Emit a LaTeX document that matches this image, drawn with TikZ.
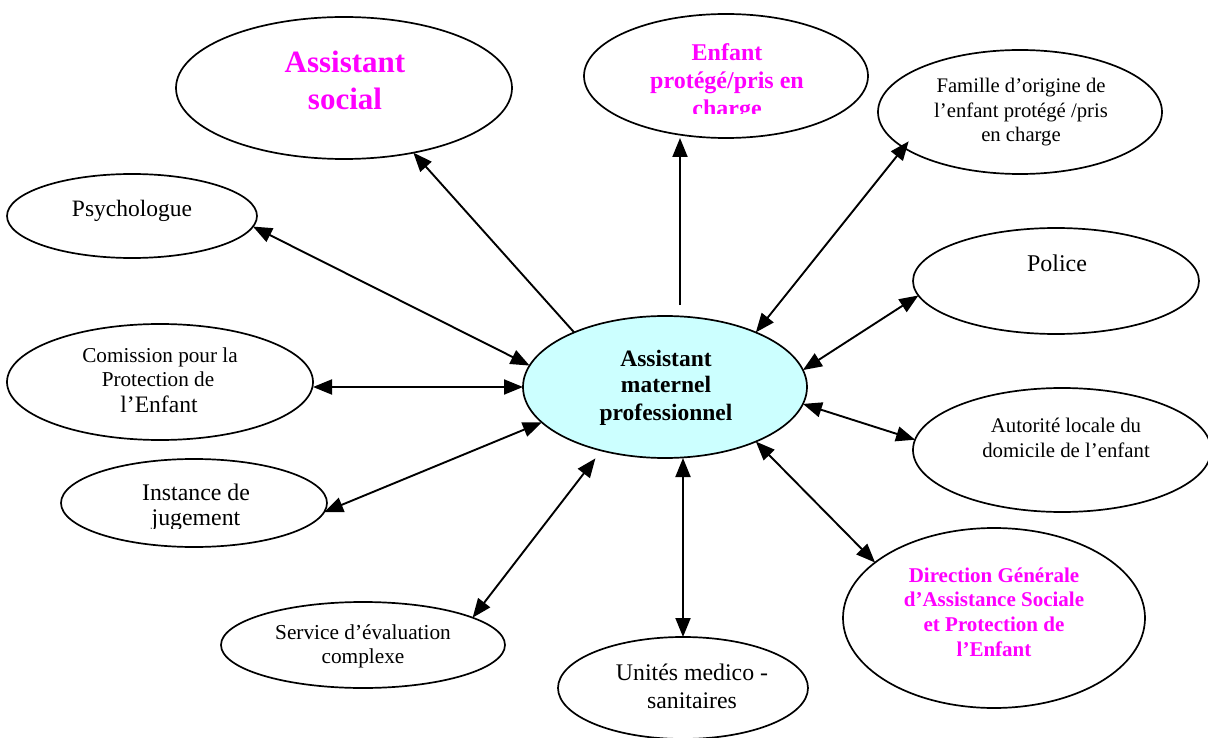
\documentclass[tikz,border=0pt]{standalone}
\usepackage{fontspec}
\setmainfont{Liberation Serif}
\usetikzlibrary{shapes.geometric,arrows.meta}
\definecolor{mag}{HTML}{FF00FF}
\definecolor{cyanfill}{HTML}{CCFFFF}
\tikzset{
  oval/.style={ellipse, draw=black, line width=1.7pt, inner sep=0pt, outer sep=0pt},
  link/.style={line width=1.9pt, {Triangle[length=19pt,width=15pt]}-{Triangle[length=19pt,width=15pt]}},
  linkone/.style={line width=1.9pt, -{Triangle[length=19pt,width=15pt]}},
  lbl/.style={anchor=base, inner sep=0pt, outer sep=0pt},
  magb/.style={text=mag, font=\bfseries\fontsize{#1}{#1}\selectfont},
  blkb/.style={text=black, font=\bfseries\fontsize{#1}{#1}\selectfont},
  reg/.style={text=black, font=\fontsize{#1}{#1}\selectfont}
}
\begin{document}
\begin{tikzpicture}[x=1pt,y=-1pt]
\useasboundingbox (0,0) rectangle (1208,738);
% ellipses
\node[oval, fill=cyanfill, minimum width=284pt, minimum height=142pt] (cen) at (665,387) {};
\node[oval, minimum width=336pt, minimum height=142pt] (soc) at (344,88) {};
\node[oval, minimum width=284pt, minimum height=124pt] (enf) at (726,76) {};
\node[oval, minimum width=284pt, minimum height=124pt] (fam) at (1020,112) {};
\node[oval, minimum width=286pt, minimum height=106pt] (pol) at (1056,281) {};
\node[oval, minimum width=298pt, minimum height=124pt] (aut) at (1062,450) {};
\node[oval, minimum width=302pt, minimum height=180pt] (dir) at (994,618) {};
\node[oval, minimum width=250pt, minimum height=102pt] (uni) at (683,688) {};
\node[oval, minimum width=284pt, minimum height=86pt] (ser) at (363,645) {};
\node[oval, minimum width=266pt, minimum height=88pt] (ins) at (194,503) {};
\node[oval, minimum width=306pt, minimum height=116pt] (com) at (160,382) {};
\node[oval, minimum width=250pt, minimum height=84pt] (psy) at (132,216) {};

% texts
\node[lbl, blkb=23.5] (cen1) at (666,366) {Assistant};
\node[lbl, blkb=23.5] (cen2) at (666,392) {maternel};
\node[lbl, blkb=23.5] (cen3) at (666,420) {professionnel};

\node[lbl, magb=31] (soc1) at (345,73) {Assistant};
\node[lbl, magb=31] (soc2) at (345,110) {social};

\begin{scope}
\clip (600,30) rectangle (850,114);
\node[lbl, magb=24] (enf1) at (727,61) {Enfant};
\node[lbl, magb=24] (enf2) at (727,89) {protégé/pris en};
\node[lbl, magb=24] (enf3) at (727,117) {charge};
\end{scope}

\node[lbl, reg=20.7] (fam1) at (1021,93) {Famille d’origine de};
\node[lbl, reg=20.7] (fam2) at (1021,118) {l’enfant protégé /pris};
\node[lbl, reg=20.7] (fam3) at (1021,142) {en charge};

\node[lbl, reg=24] (pol1) at (1057,272) {Police};

\node[lbl, reg=20.8] (aut1) at (1066,432) {Autorité locale du};
\node[lbl, reg=20.8] (aut2) at (1066,457) {domicile de l’enfant};

\node[lbl, magb=21] (dir1) at (994,582) {Direction Générale};
\node[lbl, magb=21] (dir2) at (994,606) {d’Assistance Sociale};
\node[lbl, magb=21] (dir3) at (994,631) {et Protection de};
\node[lbl, magb=21] (dir4) at (994,656) {l’Enfant};

\node[lbl, reg=23.8] (uni1) at (692,680) {Unités medico -};
\node[lbl, reg=23.8] (uni2) at (692,708) {sanitaires};

\node[lbl, reg=21.3] (ser1) at (363,639) {Service d’évaluation};
\node[lbl, reg=21.3] (ser2) at (363,663) {complexe};

\begin{scope}
\clip (60,470) rectangle (330,528);
\node[lbl, reg=23.8] (ins1) at (196,500) {Instance de};
\node[lbl, reg=23.8] (ins2) at (196,525) {jugement};
\end{scope}

\node[lbl, reg=21.2] (com1) at (160,362) {Comission pour la};
\node[lbl, reg=21.2] (com2) at (158,386) {Protection de};
\node[lbl, reg=23.6] (com3) at (159,412) {l’Enfant};

\node[lbl, reg=23.5] (psy1) at (132,217) {Psychologue};

% connectors
\coordinate (enfs) at (680,305);
\draw[linkone] (cen.149) -- (soc.-43);
\draw[linkone] (enfs) -- (enfs |- enf.south);
\draw[link] (psy.-5.5) -- (cen.171);
\draw[link, shorten >=-8pt] (cen.31) -- (fam.197.8);
\draw[link] (cen.7.2) -- (pol.186.9);
\draw[link] (cen.-7.2) -- (aut.176.1);
\draw[link] (cen.-31.4) -- (dir.155.4);
\draw[link] (uni.north |- cen.south) -- (uni.north);
\draw[link, shorten >=10pt] (ser.14.2) -- (cen.-135.5);
\draw[link] (ins.-4) -- (cen.-164.2);
\draw[link] (com.east |- cen.west) -- (cen.west);
\end{tikzpicture}
\end{document}
